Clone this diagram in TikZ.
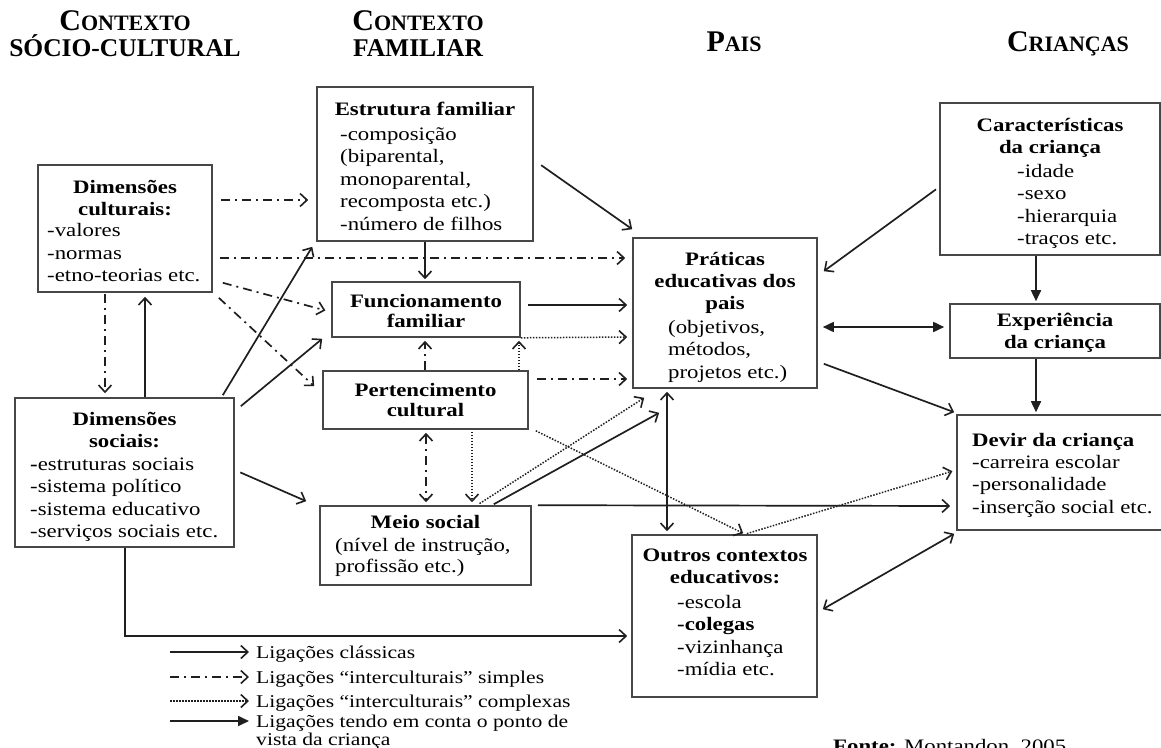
\documentclass[tikz,border=0pt]{standalone}
\usepackage{fontspec}
\setmainfont{Liberation Serif}[UprightFeatures={FakeStretch=1.2},BoldFeatures={FakeStretch=1.2}]
\newfontfamily\headfont{Liberation Serif}
\usetikzlibrary{arrows.meta}

% column headings: large initial, smaller capitals after it
\newcommand{\bigini}[2]{{\fontsize{30}{32}\selectfont #1}{\fontsize{22}{24}\selectfont #2}}
\newcommand{\lowrow}[1]{{\fontsize{25.5}{28}\selectfont #1}}

\tikzset{
  ob/.tip={Straight Barb[length=7pt,width=13pt,line width=1.6pt]},
  fb/.tip={Triangle[length=11pt,width=10pt]},
  box/.style={draw=black!72, line width=1.6pt, inner sep=0pt},
  body/.style={inner sep=0pt, text=black, font=\fontsize{19}{22.5}\selectfont},
  hdl/.style={body, font=\fontsize{19}{22}\selectfont\bfseries, align=center, anchor=north},
  hdtight/.style={body, font=\fontsize{19}{20}\selectfont\bfseries, align=center, anchor=north},
  hdone/.style={body, font=\fontsize{19}{22}\selectfont\bfseries, anchor=base},
  lst/.style={body, align=left, anchor=north west},
  colhead/.style={inner sep=0pt, text=black, font=\headfont\bfseries, anchor=base},
  legtxt/.style={inner sep=0pt, text=black, font=\fontsize{18}{18}\selectfont},
  cls/.style={draw=black!88, line width=1.7pt, -ob},
  dd/.style={cls, dash pattern=on 9pt off 5pt on 2pt off 5pt},
  dotd/.style={cls, line width=1.5pt, dash pattern=on 1.5pt off 1.5pt},
  kid/.style={draw=black!88, line width=1.7pt, -fb},
}

\begin{document}
\begin{tikzpicture}[x=1pt,y=-1pt]
\useasboundingbox[fill=white] (0,0) rectangle (1161,747);

% column headings
\node[colhead] (h1a) at (125,30) {\bigini{C}{ONTEXTO}};
\node[colhead] (h1b) at (125,56) {\lowrow{SÓCIO-CULTURAL}};
\node[colhead] (h2a) at (418,30) {\bigini{C}{ONTEXTO}};
\node[colhead] (h2b) at (418,56) {\lowrow{FAMILIAR}};
\node[colhead] (h3) at (734,51) {\bigini{P}{AIS}};
\node[colhead] (h4) at (1068,51) {\bigini{C}{RIANÇAS}};

% boxes
\node[box, minimum width=174pt, minimum height=127pt] (dc) at (125,228.5) {};
\node[box, minimum width=216pt, minimum height=154pt] (ef) at (425,164) {};
\node[box, minimum width=188pt, minimum height=55pt] (ff) at (426,309.5) {};
\node[box, minimum width=205pt, minimum height=58pt] (pc) at (425.5,400) {};
\node[box, minimum width=211pt, minimum height=79pt] (ms) at (425.5,545.5) {};
\node[box, minimum width=219pt, minimum height=149pt] (ds) at (124.5,472.5) {};
\node[box, minimum width=184pt, minimum height=150pt] (pr) at (725,313) {};
\node[box, minimum width=220pt, minimum height=152pt] (ch) at (1050,179) {};
\node[box, minimum width=210pt, minimum height=54pt] (ex) at (1055,331) {};
\node[box, minimum width=209pt, minimum height=115pt] (dv) at (1061.5,472.5) {};
\node[box, minimum width=185pt, minimum height=162pt] (ot) at (724.5,616) {};

% box texts (first baselines: north + 0.7 baselineskip)
\node[hdl] (dct) at (125,177.6) {\strut Dimensões\\culturais:};
\node[lst] (dcl) at (47,220.75) {\strut -valores\\-normas\\-etno-teorias etc.};

\node[hdone] (eft) at (425,115) {Estrutura familiar};
\node[lst] (efl) at (340,124.25) {\strut -composição\\(biparental,\\monoparental,\\recomposta etc.)\\-número de filhos};

\node[hdtight] (fft) at (426,293) {\strut Funcionamento\\familiar};
\node[hdtight] (pct) at (425.5,382.5) {\strut Pertencimento\\cultural};

\node[hdone] (mst) at (425.5,528) {Meio social};
\node[lst, font=\fontsize{19}{21}\selectfont] (msl) at (335,536.3) {\strut (nível de instrução,\\profissão etc.)};

\node[hdl] (dst) at (124.5,409.6) {\strut Dimensões\\sociais:};
\node[lst] (dsl) at (30,454.25) {\strut\textbf{-}estruturas sociais\\-sistema político\\-sistema educativo\\-serviços sociais etc.};

\node[hdl] (prt) at (725,249.6) {\strut Práticas\\educativas dos\\pais};
\node[lst] (prl) at (668,317.25) {\strut (objetivos,\\métodos,\\projetos etc.)};

\node[hdl] (cht) at (1050,115.6) {\strut Características\\da criança};
\node[lst] (chl) at (1017,161.25) {\strut -idade\\-sexo\\-hierarquia\\-traços etc.};

\node[hdl] (ext) at (1055,310.6) {\strut Experiência\\da criança};

\node[hdone, anchor=base west] (dvt) at (972,446) {Devir da criança};
\node[lst] (dvl) at (972,452.25) {\strut -carreira escolar\\-personalidade\\-inserção social etc.};

\node[hdl] (ott) at (725,545.6) {\strut Outros contextos\\educativos:};
\node[lst] (otl) at (677,592.25) {\strut -escola\\\textbf{-colegas}\\-vizinhança\\-mídia etc.};

% links from the socio-cultural context
\draw[dd, shorten <=8pt, shorten >=8pt] (dc.east |- 0,200) -- (ef.west |- 0,200);
\draw[dd, shorten <=7pt, shorten >=7pt] (dc.east |- 0,258) -- (pr.west |- 0,258);
\draw[dd, shorten >=6pt] ([shift={(10,-10)}]dc.south east) -- (ff.west |- 0,312);
\draw[dd] ([shift={(6,5)}]dc.south east) -- ([shift={(-8,16)}]pc.north west);
\draw[dd, shorten <=1pt, shorten >=4pt] (105,0 |- dc.south) -- (105,0 |- ds.north);
\draw[cls, shorten >=4pt] (145,0 |- ds.north) -- (145,0 |- dc.south);
\draw[cls] ([shift={(-12,-2)}]ds.north east) -- ([shift={(-4,5)}]ef.south west);
\draw[cls] ([shift={(6,9)}]ds.north east) -- ([shift={(-9,1)}]ff.south west);
\draw[cls, shorten <=6pt] (ds.east |- 0,470) -- ([shift={(-13,-4)}]ms.north west);
\draw[cls, shorten >=4pt] (125,0 |- ds.south) |- (ot.west |- 0,636);

% links within the family context
\draw[cls, shorten >=2pt] (425,0 |- ef.south) -- (425,0 |- ff.north);
\draw[cls, shorten <=9pt] (ef.east |- 0,160) -- ([shift={(0,-8)}]pr.north west);
\draw[cls, shorten <=7pt, shorten >=5pt] (ff.east |- 0,305) -- (pr.west |- 0,305);
\draw[dotd, shorten >=5pt] (ff.south east) -- (pr.west |- 0,337);
\draw[dd, shorten >=3pt] (425,0 |- pc.north) -- (425,0 |- ff.south);
\draw[dotd, shorten >=3pt] (519,0 |- pc.north) -- (519,0 |- ff.south);
\draw[dd, shorten <=8pt, shorten >=5pt] (pc.east |- 0,379) -- (pr.west |- 0,379);
\draw[dd, ob-ob, shorten <=3pt, shorten >=3pt] (426,0 |- pc.south) -- (426,0 |- ms.north);
\draw[dotd, shorten <=2pt, shorten >=3pt] (472,0 |- pc.south) -- (472,0 |- ms.north);
\draw[dotd, shorten >=2pt] ([shift={(7,1)}]pc.south east) -- (745,0 |- ot.north);
\draw[dotd, shorten <=3pt] (477,0 |- ms.north) -- ([shift={(12,9)}]pr.south west);
\draw[cls, shorten <=2pt] (492,0 |- ms.north) -- ([shift={(27,24)}]pr.south west);
\draw[cls, shorten <=6pt, shorten >=6pt] (ms.north east) -- (dv.west |- 0,506);

% links of the parents' practices and the child
\draw[cls, ob-ob, shorten <=3pt, shorten >=3pt] (667,0 |- pr.south) -- (667,0 |- ot.north);
\draw[kid, fb-fb, shorten <=5pt, shorten >=5pt] (pr.east |- 0,327) -- (ex.west |- 0,327);
\draw[cls, shorten <=4pt] (ch.west |- 0,187) -- ([shift={(6,34)}]pr.north east);
\draw[kid, shorten >=2pt] (1036,0 |- ch.south) -- (1036,0 |- ex.north);
\draw[kid, shorten >=2pt] (1036,0 |- ex.south) -- (1036,0 |- dv.north);
\draw[cls] ([shift={(6,-25)}]pr.south east) -- ([shift={(-2,-2)}]dv.north west);
\draw[dotd, shorten <=2pt, shorten >=4pt] (745,0 |- ot.north) -- (dv.west |- 0,470);
\draw[cls, ob-ob] ([shift={(5,75)}]ot.north east) -- ([shift={(-2,3)}]dv.south west);

% legend
\node[legtxt, anchor=base west] (lg1) at (256,658) {Ligações clássicas};
\node[legtxt, anchor=base west] (lg2) at (256,683) {Ligações “interculturais” simples};
\node[legtxt, anchor=base west] (lg3) at (256,707) {Ligações “interculturais” complexas};
\node[legtxt, align=left, anchor=north west] (lg4) at (256,714.4) {\strut Ligações tendo em conta o ponto de\\vista da criança};
\coordinate (la1) at (170,652);
\coordinate (la2) at (170,677);
\coordinate (la3) at (170,701);
\coordinate (la4) at (170,721);
\draw[cls, shorten >=7pt] (la1) -- (la1 -| lg1.west);
\draw[dd, shorten >=7pt] (la2) -- (la2 -| lg2.west);
\draw[dotd, shorten >=7pt] (la3) -- (la3 -| lg3.west);
\draw[kid, shorten >=7pt] (la4) -- (la4 -| lg4.west);

% source line
\node[body, anchor=base west] (src) at (833,752) {\textbf{Fonte:} Montandon, 2005};
\end{tikzpicture}
\end{document}
